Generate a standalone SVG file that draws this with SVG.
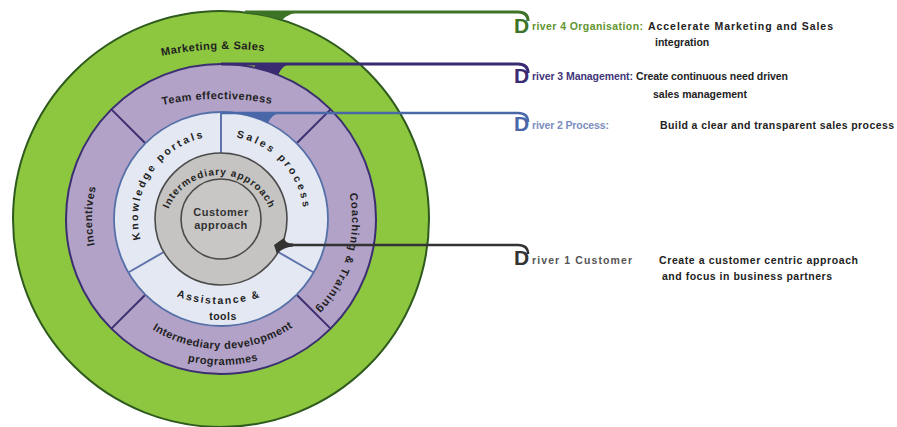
<svg xmlns="http://www.w3.org/2000/svg" width="897" height="427" viewBox="0 0 897 427">
  <style>
    .ring-text { font-family: "Liberation Sans", Arial, sans-serif; font-weight: bold; font-size: 11px; fill: #1f1f1f; letter-spacing: 0.5px; }
    .spaced { font-size: 10.5px; }
    .driver-d { font-family: "Liberation Sans", Arial, sans-serif; font-weight: bold; font-size: 21px; }
    .driver-label { font-family: "Liberation Sans", Arial, sans-serif; font-weight: bold; font-size: 10.5px; }
    .desc { font-family: "Liberation Sans", Arial, sans-serif; font-weight: bold; font-size: 10.5px; fill: #222222; }
    .div-purple { stroke: #3b2f72; stroke-width: 2; }
    .div-blue { stroke: #5f74ab; stroke-width: 2; }
    .conn { fill: none; stroke-linecap: butt; }
  </style>
  <defs>
    <!-- text baselines -->
    <path id="arc-marketing" d="M68,91.9 A320,320 0 0 1 388,91.9"/>
    <path id="arc-team" d="M70,142.6 A280,280 0 0 1 370,142.6"/>
    <path id="arc-incentives" d="M221,348 A129,129 0 0 1 221,90"/>
    <path id="arc-coaching" d="M221,88 A131,131 0 0 1 221,350"/>
    <path id="arc-idp1" d="M91,219 A130,130 0 0 0 351,219"/>
    <path id="arc-idp2" d="M75,219 A146,146 0 0 0 367,219"/>
    <path id="arc-knowledge" d="M221,302 A83,83 0 0 1 221,136"/>
    <path id="arc-sales" d="M221,136 A83,83 0 0 1 221,302"/>
    <path id="arc-assist" d="M159,288.4 A123,123 0 0 0 279,288.4"/>
    <path id="arc-approach" d="M164.5,229.5 A54.5,54.5 0 0 1 273.5,229.5"/>
  </defs>

  <rect width="897" height="427" fill="#ffffff"/>

  <!-- outer ring: Marketing & Sales -->
  <g id="ring-marketing-sales">
    <circle cx="221" cy="219" r="208" fill="#8dc63f" stroke="#2f5a1e" stroke-width="2"/>
    <text class="ring-text"><textPath href="#arc-marketing" startOffset="152.5" text-anchor="middle">Marketing &amp; Sales</textPath></text>
  </g>

  <!-- second ring, four segments -->
  <g id="ring-purple">
    <circle cx="221" cy="219" r="155" fill="#b2a2c7" stroke="#3b2f72" stroke-width="2"/>
    <line class="div-purple" x1="296.7" y1="294.7" x2="330.6" y2="328.6"/>
    <line class="div-purple" x1="145.3" y1="294.7" x2="111.4" y2="328.6"/>
    <line class="div-purple" x1="145.3" y1="143.3" x2="111.4" y2="109.4"/>
    <line class="div-purple" x1="296.7" y1="143.3" x2="330.6" y2="109.4"/>
  </g>
  <g id="team-effectiveness">
    <text class="ring-text"><textPath href="#arc-team" startOffset="155.4" text-anchor="middle">Team effectiveness</textPath></text>
  </g>
  <g id="incentives">
    <text class="ring-text"><textPath href="#arc-incentives" startOffset="205.6" text-anchor="middle">Incentives</textPath></text>
  </g>
  <g id="coaching-training">
    <text class="ring-text" style="letter-spacing:1px"><textPath href="#arc-coaching" startOffset="243" text-anchor="middle">Coaching &amp; Training</textPath></text>
  </g>
  <g id="intermediary-development">
    <text class="ring-text"><textPath href="#arc-idp1" startOffset="206.2" text-anchor="middle">Intermediary development</textPath></text>
    <text class="ring-text"><textPath href="#arc-idp2" startOffset="231.4" text-anchor="middle">programmes</textPath></text>
  </g>

  <!-- third ring, three segments -->
  <g id="ring-light">
    <circle cx="221" cy="219" r="107" fill="#e4e8f3" stroke="#5570a8" stroke-width="1.8"/>
    <line class="div-blue" x1="221" y1="153" x2="221" y2="112"/>
    <line class="div-blue" x1="278.2" y1="252" x2="313.7" y2="272.5"/>
    <line class="div-blue" x1="163.8" y1="252" x2="128.3" y2="272.5"/>
  </g>
  <g id="knowledge-portals">
    <text class="ring-text spaced" style="letter-spacing:2.4px"><textPath href="#arc-knowledge" startOffset="177" text-anchor="middle">Knowledge portals</textPath></text>
  </g>
  <g id="sales-process">
    <text class="ring-text spaced" style="letter-spacing:2.7px"><textPath href="#arc-sales" startOffset="68.2" text-anchor="middle">Sales process</textPath></text>
  </g>
  <g id="assistance-tools">
    <text class="ring-text spaced" style="letter-spacing:1.7px"><textPath href="#arc-assist" startOffset="50%" text-anchor="middle">Assistance &amp;</textPath></text>
    <text class="ring-text spaced" x="223" y="320" text-anchor="middle">tools</text>
  </g>

  <!-- core -->
  <g id="intermediary-approach">
    <circle cx="221" cy="219" r="66" fill="#c5c4c2" stroke="#4a4a4a" stroke-width="1.6"/>
    <text class="ring-text" style="font-size:10px;letter-spacing:1px"><textPath href="#arc-approach" startOffset="50%" text-anchor="middle">Intermediary approach</textPath></text>
  </g>
  <g id="customer-approach">
    <circle cx="221" cy="219" r="40" fill="#c8c7c5" stroke="#4a4a4a" stroke-width="1.6"/>
    <text class="ring-text" x="221" y="216" text-anchor="middle" style="fill:#333">Customer</text>
    <text class="ring-text" x="221" y="229" text-anchor="middle" style="fill:#333">approach</text>
  </g>

  <!-- driver connectors -->
  <g id="connectors">
    <path d="M245,11 H305 Q289,12.5 282,20.1 A208,208 0 0 0 245,12.4 Z" fill="#3c7326"/>
    <path class="conn" d="M245,12 H518 Q528,12 528,21" stroke="#3c7326" stroke-width="3"/>

    <path d="M255,63 H292 Q282,65 278,74.9 A155,155 0 0 0 255,67.8 Z" fill="#3a2a72"/>
    <path class="conn" d="M221,64 H518 Q528,64 528,73" stroke="#3a2a72" stroke-width="3"/>

    <path d="M240,112 H282 Q272,114 268,122.9 A107,107 0 0 0 240,113.7 Z" fill="#4866a8"/>
    <path class="conn" d="M221,113 H518 Q528,113 528,122" stroke="#4a68a8" stroke-width="2.5"/>

    <path d="M284,238 Q285,243.5 293,243.5 V246.5 Q283,247 277,254 L274,245 Z" fill="#333333"/>
    <path class="conn" d="M280,245 H518 Q528,245 528,254" stroke="#333333" stroke-width="2.5"/>
  </g>

  <!-- drivers -->
  <g id="driver-4">
    <text class="driver-d" x="514" y="33" fill="#3c7326">D</text>
    <text class="driver-label" x="532" y="30" fill="#5f9530" textLength="111">river 4 Organisation:</text>
    <text class="desc" x="648" y="30" textLength="185">Accelerate Marketing and Sales</text>
    <text class="desc" x="655" y="46">integration</text>
  </g>
  <g id="driver-3">
    <text class="driver-d" x="514" y="83" fill="#3a2a72">D</text>
    <text class="driver-label" x="532" y="80" fill="#3f3578" textLength="101">river 3 Management:</text>
    <text class="desc" x="636" y="80" textLength="152">Create continuous need driven</text>
    <text class="desc" x="653" y="98">sales management</text>
  </g>
  <g id="driver-2">
    <text class="driver-d" x="514" y="131" fill="#4a68a8">D</text>
    <text class="driver-label" x="532" y="129" fill="#7b8cc0" textLength="77">river 2 Process:</text>
    <text class="desc" x="660" y="129" textLength="234">Build a clear and transparent sales process</text>
  </g>
  <g id="driver-1">
    <text class="driver-d" x="514" y="265" fill="#333333">D</text>
    <text class="driver-label" x="532" y="264" fill="#555555" textLength="100">river 1 Customer</text>
    <text class="desc" x="659" y="264" textLength="199">Create a customer centric approach</text>
    <text class="desc" x="662" y="280" textLength="170">and focus in business partners</text>
  </g>
</svg>
